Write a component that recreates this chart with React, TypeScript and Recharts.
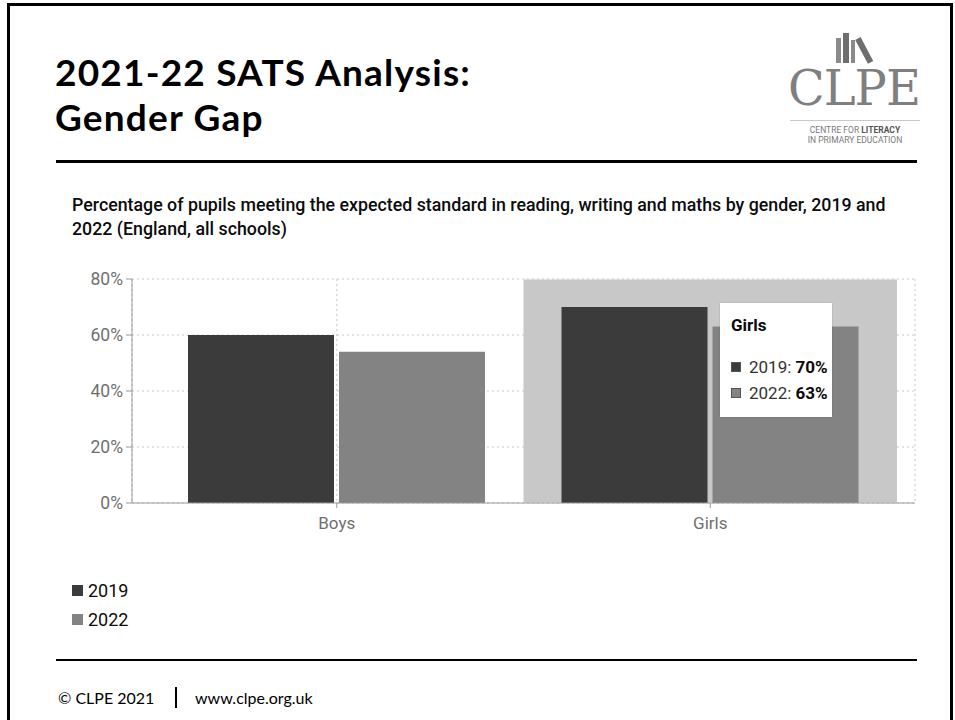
import React from "react";
import {
  BarChart,
  Bar,
  XAxis,
  YAxis,
  CartesianGrid,
  Tooltip,
  Legend,
} from "recharts";

const categories = ["Boys", "Girls"];
const seriesNames = ["2019", "2022"];
const values2019 = [60, 70];
const values2022 = [54, 63];
const yTicks = [0, 20, 40, 60, 80];

const SERIES_COLORS = ["#3b3b3b", "#838383"];
const AXIS_GREY = "#9a9a9a";
const TEXT_DARK = "#0b0c0c";

const chartData = categories.map((name, i) => ({
  name,
  y2019: values2019[i],
  y2022: values2022[i],
}));

const GapTooltip = ({ active, payload, label }: any) => {
  if (!active || !payload || !payload.length) return null;
  return (
    <div
      style={{
        background: "#fff",
        width: 112,
        height: 114,
        boxSizing: "border-box",
        padding: "12px 0 0 11px",
        fontFamily: "Roboto, sans-serif",
        color: TEXT_DARK,
        boxShadow: "0 0 2px rgba(0,0,0,0.15)",
      }}
    >
      <div style={{ fontWeight: 700, fontSize: 17, lineHeight: "20px" }}>{label}</div>
      <div style={{ marginTop: 19 }}>
        {payload.map((p: any) => (
          <div
            key={p.dataKey}
            style={{ display: "flex", alignItems: "center", height: 26, fontSize: 17 }}
          >
            <span
              style={{
                display: "inline-block",
                width: 10,
                height: 10,
                background: p.color,
                border: "1px solid #555",
                marginRight: 8,
                boxSizing: "border-box",
              }}
            />
            <span style={{ fontWeight: 400, color: "#333" }}>{p.name}:&nbsp;</span>
            <span style={{ fontWeight: 700 }}>{p.value}%</span>
          </div>
        ))}
      </div>
    </div>
  );
};

const SeriesLegend = ({ payload }: any) => (
  <div style={{ fontFamily: "Roboto, sans-serif" }}>
    {(payload || []).map((item: any) => (
      <div
        key={item.value}
        style={{ display: "flex", alignItems: "center", height: 29, fontSize: 18, color: TEXT_DARK }}
      >
        <span
          style={{
            display: "inline-block",
            width: 11,
            height: 11,
            background: item.color,
            marginRight: 5,
          }}
        />
        {item.value}
      </div>
    ))}
  </div>
);

const ClpeLogo = () => (
  <div style={{ position: "absolute", left: 788, top: 30, width: 134, height: 120 }}>
    <svg width={134} height={36} style={{ position: "absolute", left: 0, top: 0 }}>
      <rect x={48} y={8} width={5} height={25} fill="#8a8a8a" />
      <rect x={55} y={3} width={6} height={30} fill="#6e6e6e" />
      <rect x={63} y={10} width={4} height={23} fill="#8a8a8a" />
      <rect x={73} y={7} width={6} height={27} fill="#6e6e6e" transform="rotate(-28 76 20)" />
    </svg>
    <div
      style={{
        position: "absolute",
        left: 0,
        top: 30,
        fontFamily: "'DejaVu Serif', serif",
        fontSize: 48,
        lineHeight: "56px",
        color: "#7f7f7f",
        letterSpacing: -1,
      }}
    >
      CLPE
    </div>
    <div style={{ position: "absolute", left: 2, top: 90, width: 130, height: 1, background: "#c9c9c9" }} />
    <div
      style={{
        position: "absolute",
        left: 0,
        top: 96,
        width: 134,
        textAlign: "center",
        fontFamily: "Roboto, sans-serif",
        fontSize: 8.5,
        lineHeight: "9.5px",
        color: "#7a7a7a",
      }}
    >
      CENTRE FOR <b style={{ color: "#555" }}>LITERACY</b>
      <br />
      IN PRIMARY EDUCATION
    </div>
  </div>
);

const titleStyle: React.CSSProperties = {
  position: "absolute",
  left: 55,
  fontFamily: "Lato, sans-serif",
  fontWeight: 700,
  fontSize: 37,
  lineHeight: 1.2,
  letterSpacing: 1.2,
  color: "#000",
  whiteSpace: "nowrap",
};

const footerStyle: React.CSSProperties = {
  position: "absolute",
  top: 688,
  fontFamily: "Lato, sans-serif",
  fontSize: 16,
  lineHeight: "20px",
  color: "#000",
  whiteSpace: "nowrap",
};

export default function App() {
  return (
    <div
      style={{
        position: "absolute",
        left: 0,
        top: 0,
        width: 955,
        height: 720,
        background: "#fff",
        overflow: "hidden",
      }}
    >
      {/* slide frame */}
      <div
        style={{
          position: "absolute",
          left: 7,
          top: 3,
          width: 940,
          height: 730,
          border: "3px solid #000",
          borderBottom: "none",
        }}
      />

      <div style={{ ...titleStyle, top: 50 }}>2021-22 SATS Analysis:</div>
      <div style={{ ...titleStyle, top: 95 }}>Gender Gap</div>

      <ClpeLogo />

      <div style={{ position: "absolute", left: 56, top: 160, width: 861, height: 3, background: "#000" }} />

      <div
        style={{
          position: "absolute",
          left: 72,
          top: 193,
          fontFamily: "Roboto, sans-serif",
          fontWeight: 500,
          fontSize: 17.8,
          lineHeight: "24px",
          color: TEXT_DARK,
          whiteSpace: "nowrap",
        }}
      >
        Percentage of pupils meeting the expected standard in reading, writing and maths by gender, 2019 and
        <br />
        2022 (England, all schools)
      </div>

      <div style={{ position: "absolute", left: 0, top: 260 }}>
        <BarChart
          width={955}
          height={380}
          data={chartData}
          margin={{ top: 19, right: 40, left: 60, bottom: 107 }}
          barCategoryGap={38}
          barGap={5}
        >
          <CartesianGrid stroke="#c8c8c8" strokeDasharray="2 3" />
          <XAxis
            dataKey="name"
            padding={{ left: 18, right: 18 }}
            axisLine={{ stroke: AXIS_GREY }}
            tickLine={{ stroke: AXIS_GREY }}
            tickSize={5}
            tickMargin={9}
            tick={{ fill: "#707070", fontSize: 17, fontFamily: "Roboto, sans-serif" }}
          />
          <YAxis
            width={72}
            domain={[0, 80]}
            ticks={yTicks}
            tickFormatter={(v: number) => `${v}%`}
            axisLine={{ stroke: AXIS_GREY }}
            tickLine={{ stroke: AXIS_GREY }}
            tickSize={6}
            tickMargin={3}
            tick={{ fill: "#707070", fontSize: 17.5, fontFamily: "Roboto, sans-serif" }}
          />
          <Tooltip
            defaultIndex={1}
            content={<GapTooltip />}
            cursor={{ fill: "#c8c8c8" }}
            position={{ x: 720, y: 43 }}
            isAnimationActive={false}
            wrapperStyle={{ outline: "none" }}
          />
          <Legend
            layout="horizontal"
            verticalAlign="middle"
            align="center"
            content={<SeriesLegend />}
            wrapperStyle={{ left: 72, top: 316, width: 120 }}
          />
          <Bar dataKey="y2019" name={seriesNames[0]} fill={SERIES_COLORS[0]} isAnimationActive={false} />
          <Bar dataKey="y2022" name={seriesNames[1]} fill={SERIES_COLORS[1]} isAnimationActive={false} />
        </BarChart>
      </div>

      <div style={{ position: "absolute", left: 56, top: 659, width: 861, height: 2, background: "#000" }} />

      <div style={{ ...footerStyle, left: 58 }}>© CLPE 2021</div>
      <div style={{ position: "absolute", left: 175, top: 687, width: 2, height: 21, background: "#000" }} />
      <div style={{ ...footerStyle, left: 195 }}>www.clpe.org.uk</div>
    </div>
  );
}
